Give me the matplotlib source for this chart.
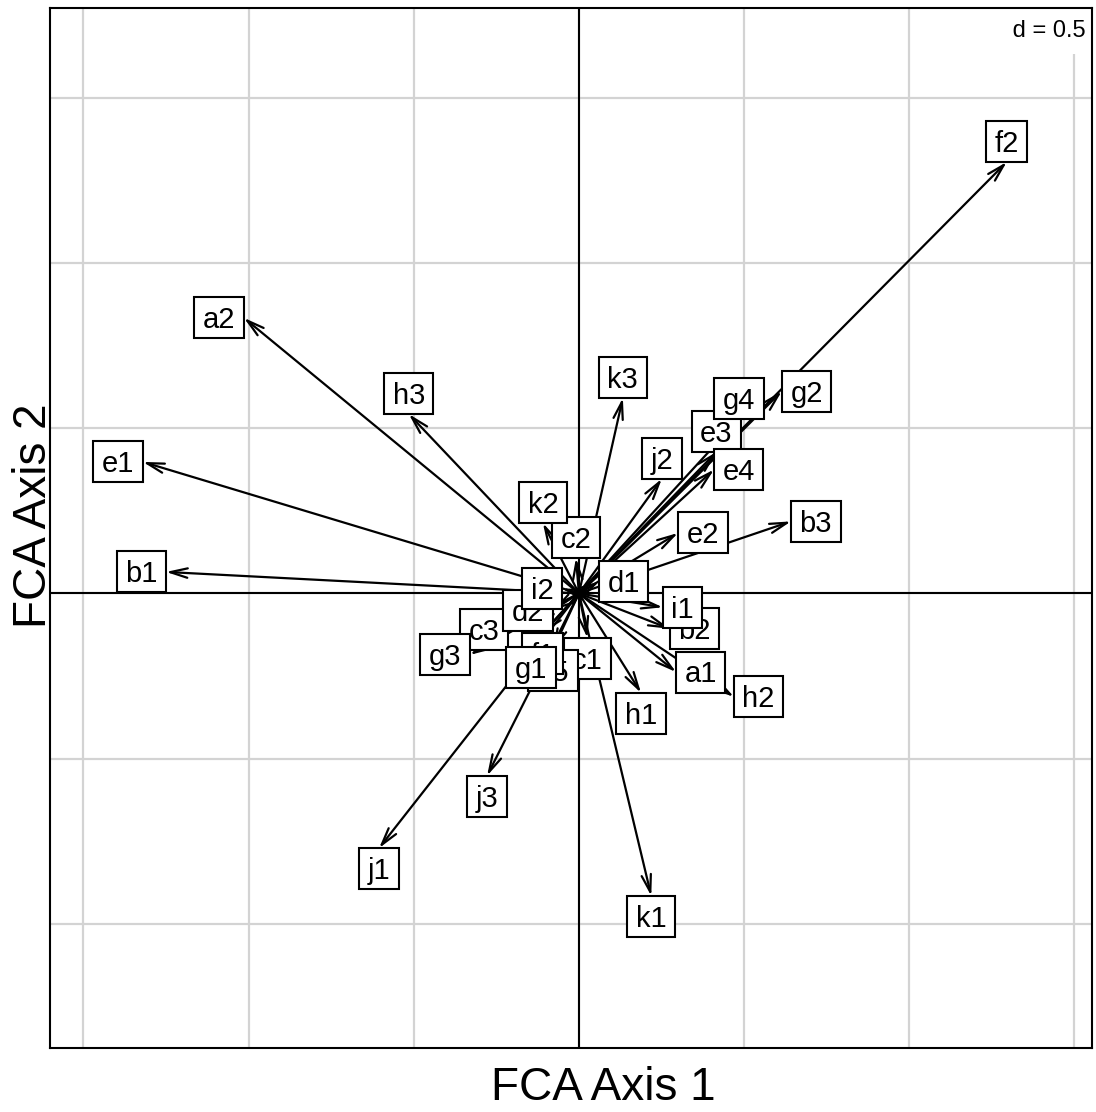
import matplotlib
matplotlib.use("Agg")
import matplotlib.pyplot as plt
from matplotlib.patches import Rectangle
import numpy as np

# ---- data (arrow tips) ----
labels = ["a1", "a2", "b1", "b2", "b3", "c1", "c2", "c3", "d1", "d2",
          "e1", "e2", "e3", "e4", "e5", "f1", "f2", "g1", "g2", "g3", "g4",
          "h1", "h2", "h3", "i1", "i2", "j1", "j2", "j3", "k1", "k2", "k3"]
x = [0.294, -1.014, -1.250, 0.275, 0.642, 0.026, -0.009, -0.215, 0.061, -0.079,
     -1.320, 0.300, 0.416, 0.409, -0.079, -0.110, 1.295, -0.145, 0.614, -0.330, 0.484,
     0.188, 0.469, -0.515, 0.254, -0.051, -0.605, 0.251, -0.278, 0.219, -0.109, 0.133]
y = [-0.238, 0.834, 0.065, -0.107, 0.218, -0.135, 0.107, -0.110, 0.036, -0.051,
     0.398, 0.183, 0.428, 0.375, -0.171, -0.120, 1.306, -0.162, 0.612, -0.186, 0.528,
     -0.301, -0.313, 0.543, -0.042, 0.015, -0.771, 0.347, -0.552, -0.916, 0.213, 0.592]
grid_step = 0.5
xlim = (-1.601, 1.553)
ylim = (-1.376, 1.772)
xlabel = "FCA Axis 1"
ylabel = "FCA Axis 2"
d_text = " d = 0.5 "

plt.rcParams['font.family'] = ['Liberation Sans', 'DejaVu Sans']
W, H, DPI = 1096, 1112, 100
fig = plt.figure(figsize=(W / DPI, H / DPI), dpi=DPI)
ax = fig.add_axes([50 / W, 64 / H, 1042 / W, 1040 / H])
ax.set_xlim(xlim)
ax.set_ylim(ylim)
ax.set_xticks([])
ax.set_yticks([])
for s in ax.spines.values():
    s.set_linewidth(1.5)
    s.set_zorder(200)

# grid
gx = np.arange(np.ceil(xlim[0] / grid_step), np.floor(xlim[1] / grid_step) + 1) * grid_step
gy = np.arange(np.ceil(ylim[0] / grid_step), np.floor(ylim[1] / grid_step) + 1) * grid_step
for g in gx:
    ax.axvline(g, color='#d3d3d3', lw=1.6, zorder=0)
for g in gy:
    ax.axhline(g, color='#d3d3d3', lw=1.6, zorder=0)

renderer = fig.canvas.get_renderer()
p0 = ax.transData.transform((0, 0))
ppu_x = ax.transData.transform((1, 0))[0] - p0[0]
ppu_y = ax.transData.transform((0, 1))[1] - p0[1]

# d = 0.5 box at top right
fs_d = 17
t = ax.text(0, 0, d_text, fontsize=fs_d)
wd = t.get_window_extent(renderer).width / ppu_x
t.remove()
hd = 46 / ppu_y
ax.add_patch(Rectangle((xlim[1] - wd, ylim[1] - hd), 2 * wd, 2 * hd,
                       facecolor='white', edgecolor='none', zorder=1))
ax.text(xlim[1] - wd / 2, ylim[1] - hd / 2, d_text, fontsize=fs_d,
        ha='center', va='center', zorder=2)

# axes through origin
ax.axhline(0, color='black', lw=1.5, zorder=3)
ax.axvline(0, color='black', lw=1.5, zorder=3)

# arrows
for xi, yi in zip(x, y):
    ax.annotate('', xy=(xi, yi), xytext=(0, 0),
                arrowprops=dict(arrowstyle='->,head_length=1.25,head_width=0.34',
                                lw=1.6, color='black', shrinkA=0, shrinkB=0,
                                mutation_scale=10),
                zorder=4)

# labels (boxes placed outward like ade4's eti.circ)
fs = 21
pad_px = 8.5
half_h = 20.5 / ppu_y
cap = 0.716 * fs * DPI / 72 / ppu_y
for i, (lab, xi, yi) in enumerate(zip(labels, x, y)):
    t = ax.text(0, 0, lab, fontsize=fs)
    w = (t.get_window_extent(renderer).width + 2 * pad_px) / ppu_x
    t.remove()
    if xi > yi and xi > -yi:
        x1, y1 = xi + w / 2, yi
    elif xi > yi and xi <= -yi:
        x1, y1 = xi, yi - half_h
    elif xi <= yi and xi <= -yi:
        x1, y1 = xi - w / 2, yi
    else:
        x1, y1 = xi, yi + half_h
    ax.add_patch(Rectangle((x1 - w / 2, y1 - half_h), w, 2 * half_h,
                           facecolor='white', edgecolor='black', lw=1.5,
                           zorder=10 + 2 * i))
    ax.text(x1, y1 - cap / 2, lab, fontsize=fs, ha='center', va='baseline',
            zorder=11 + 2 * i)

fig.text(603 / W, 1 - 1088 / H, xlabel, fontsize=33, ha='center', va='center')
fig.text(34 / W, 1 - 516 / H, ylabel, fontsize=33, ha='center', va='center', rotation=90)

fig.savefig("out.png", dpi=DPI)
